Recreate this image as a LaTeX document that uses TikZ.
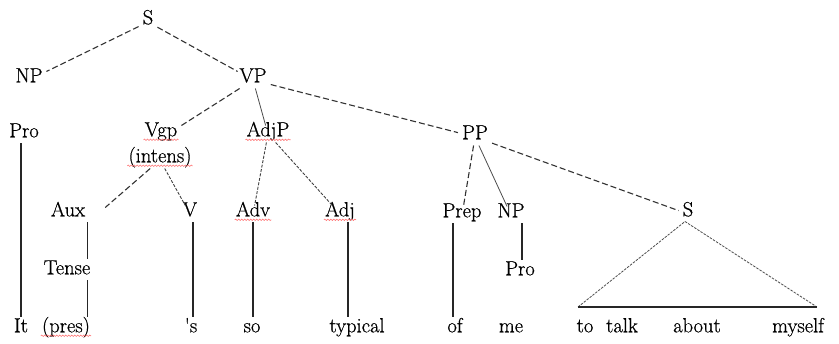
\documentclass[tikz,border=0pt]{standalone}
\usepackage{fontspec}
\newfontfamily\treefont{Latin Modern Roman}[FakeBold=0.6]
\usetikzlibrary{decorations.pathmorphing}
\begin{document}
\begin{tikzpicture}[x=1pt,y=-1pt,
  lbl/.style={font=\treefont\fontsize{20.5}{22}\selectfont, inner sep=4pt, text height=0.66em, text depth=0.2em},
  branch/.style={line width=1.1pt, black!80, dash pattern=on 6pt off 3pt},
  fine/.style={line width=0.8pt, black!70},
  finedash/.style={line width=0.9pt, black!75, dash pattern=on 3pt off 1.5pt},
  stem/.style={line width=1.4pt, black!85, shorten >=4pt},
  roof/.style={line width=0.8pt, black!70, dash pattern=on 2.5pt off 1.2pt},
  spell/.style={red!55, line width=0.6pt, decorate, decoration={snake, amplitude=0.7pt, segment length=3pt}}]
\useasboundingbox (0,0) rectangle (839,344);

% category labels
\node[lbl] (S)     at (148,22)  {S};
\node[lbl] (NPa)   at (29,80)   {NP};
\node[lbl] (VP)    at (253,80)  {VP};
\node[lbl] (ProA)  at (24,135)  {Pro};
\node[lbl] (Vgp)   at (161,134) {Vgp};
\node[lbl] (Int)   at (160,160) {(intens)};
\node[lbl] (AdjP)  at (268,134) {AdjP};
\node[lbl] (PP)    at (475,137) {PP};
\node[lbl] (Aux)   at (68,214)  {Aux};
\node[lbl] (V)     at (190,214) {V};
\node[lbl] (Adv)   at (253,214) {Adv};
\node[lbl] (Adj)   at (340,214) {Adj};
\node[lbl] (Prep)  at (462,215) {Prep};
\node[lbl] (NPb)   at (511,215) {NP};
\node[lbl] (Sb)    at (688,214) {S};
\node[lbl] (Tense) at (67,272)  {Tense};
\node[lbl] (ProB)  at (520,273) {Pro};

% words
\node[lbl] (wIt)      at (21,330)  {It};
\node[lbl] (wPres)    at (66,330)  {(pres)};
\node[lbl] (wS)       at (191,330) {'s};
\node[lbl] (wSo)      at (252,330) {so};
\node[lbl] (wTypical) at (357,330) {typical};
\node[lbl] (wOf)      at (455,330) {of};
\node[lbl] (wMe)      at (511,330) {me};
\node[lbl] (wTo)      at (585,330) {to};
\node[lbl] (wTalk)    at (622,330) {talk};
\node[lbl] (wAbout)   at (697,330) {about};
\node[lbl] (wMyself)  at (798,330) {myself};

% upper branches
\draw[branch] (S) -- (NPa);
\draw[branch] (S) -- (VP);
\draw[branch] (VP) -- (Vgp.north east);
\draw[fine]   (VP) -- (AdjP);
\draw[branch] (VP) -- (PP);
\draw[branch] (Int) -- ([xshift=16pt,yshift=-2pt]Aux.north east);
\draw[finedash] (Int) -- (V);
\draw[finedash] (AdjP) -- (Adv);
\draw[finedash] (AdjP) -- (Adj);
\draw[branch] (PP) -- (Prep);
\draw[fine]   (PP) -- (NPb);
\draw[branch] (PP) -- (Sb);

% stems down to the words
\draw[stem] ([xshift=-3pt]ProA.south) -- ([xshift=-3pt]ProA.south |- wIt.north);
\draw[stem] ([xshift=-2pt]Aux.south east) -- ([xshift=-2pt]Aux.south east |- Tense.north);
\draw[stem] ([xshift=-2pt]Aux.south east |- Tense.south) -- ([xshift=-2pt]Aux.south east |- wPres.north);
\draw[stem] ([xshift=3pt]V.south) -- ([xshift=3pt]V.south |- wS.north);
\draw[stem] (Adv.south) -- (Adv.south |- wSo.north);
\draw[stem] ([xshift=8pt]Adj.south) -- ([xshift=8pt]Adj.south |- wTypical.north);
\draw[stem] ([xshift=-9pt]Prep.south) -- ([xshift=-9pt]Prep.south |- wOf.north);
\draw[stem] ([xshift=11pt]NPb.south) -- ([xshift=11pt]NPb.south |- ProB.north);

% roof over the infinitive clause
\coordinate (rl) at (578,307);
\coordinate (rr) at (817,307);
\draw[roof] (rl) -- ([xshift=-3pt,yshift=1pt]Sb.south) -- (rr);
\draw[line width=1.6pt, black!85] (rl) -- (rr);

% spell-check underlines
\foreach \n in {Vgp,Int,AdjP,Adv,Adj,wPres}
  \draw[spell] ([xshift=3pt,yshift=-3.5pt]\n.base west) -- ([xshift=-3pt,yshift=-3.5pt]\n.base east);
\end{tikzpicture}
\end{document}
